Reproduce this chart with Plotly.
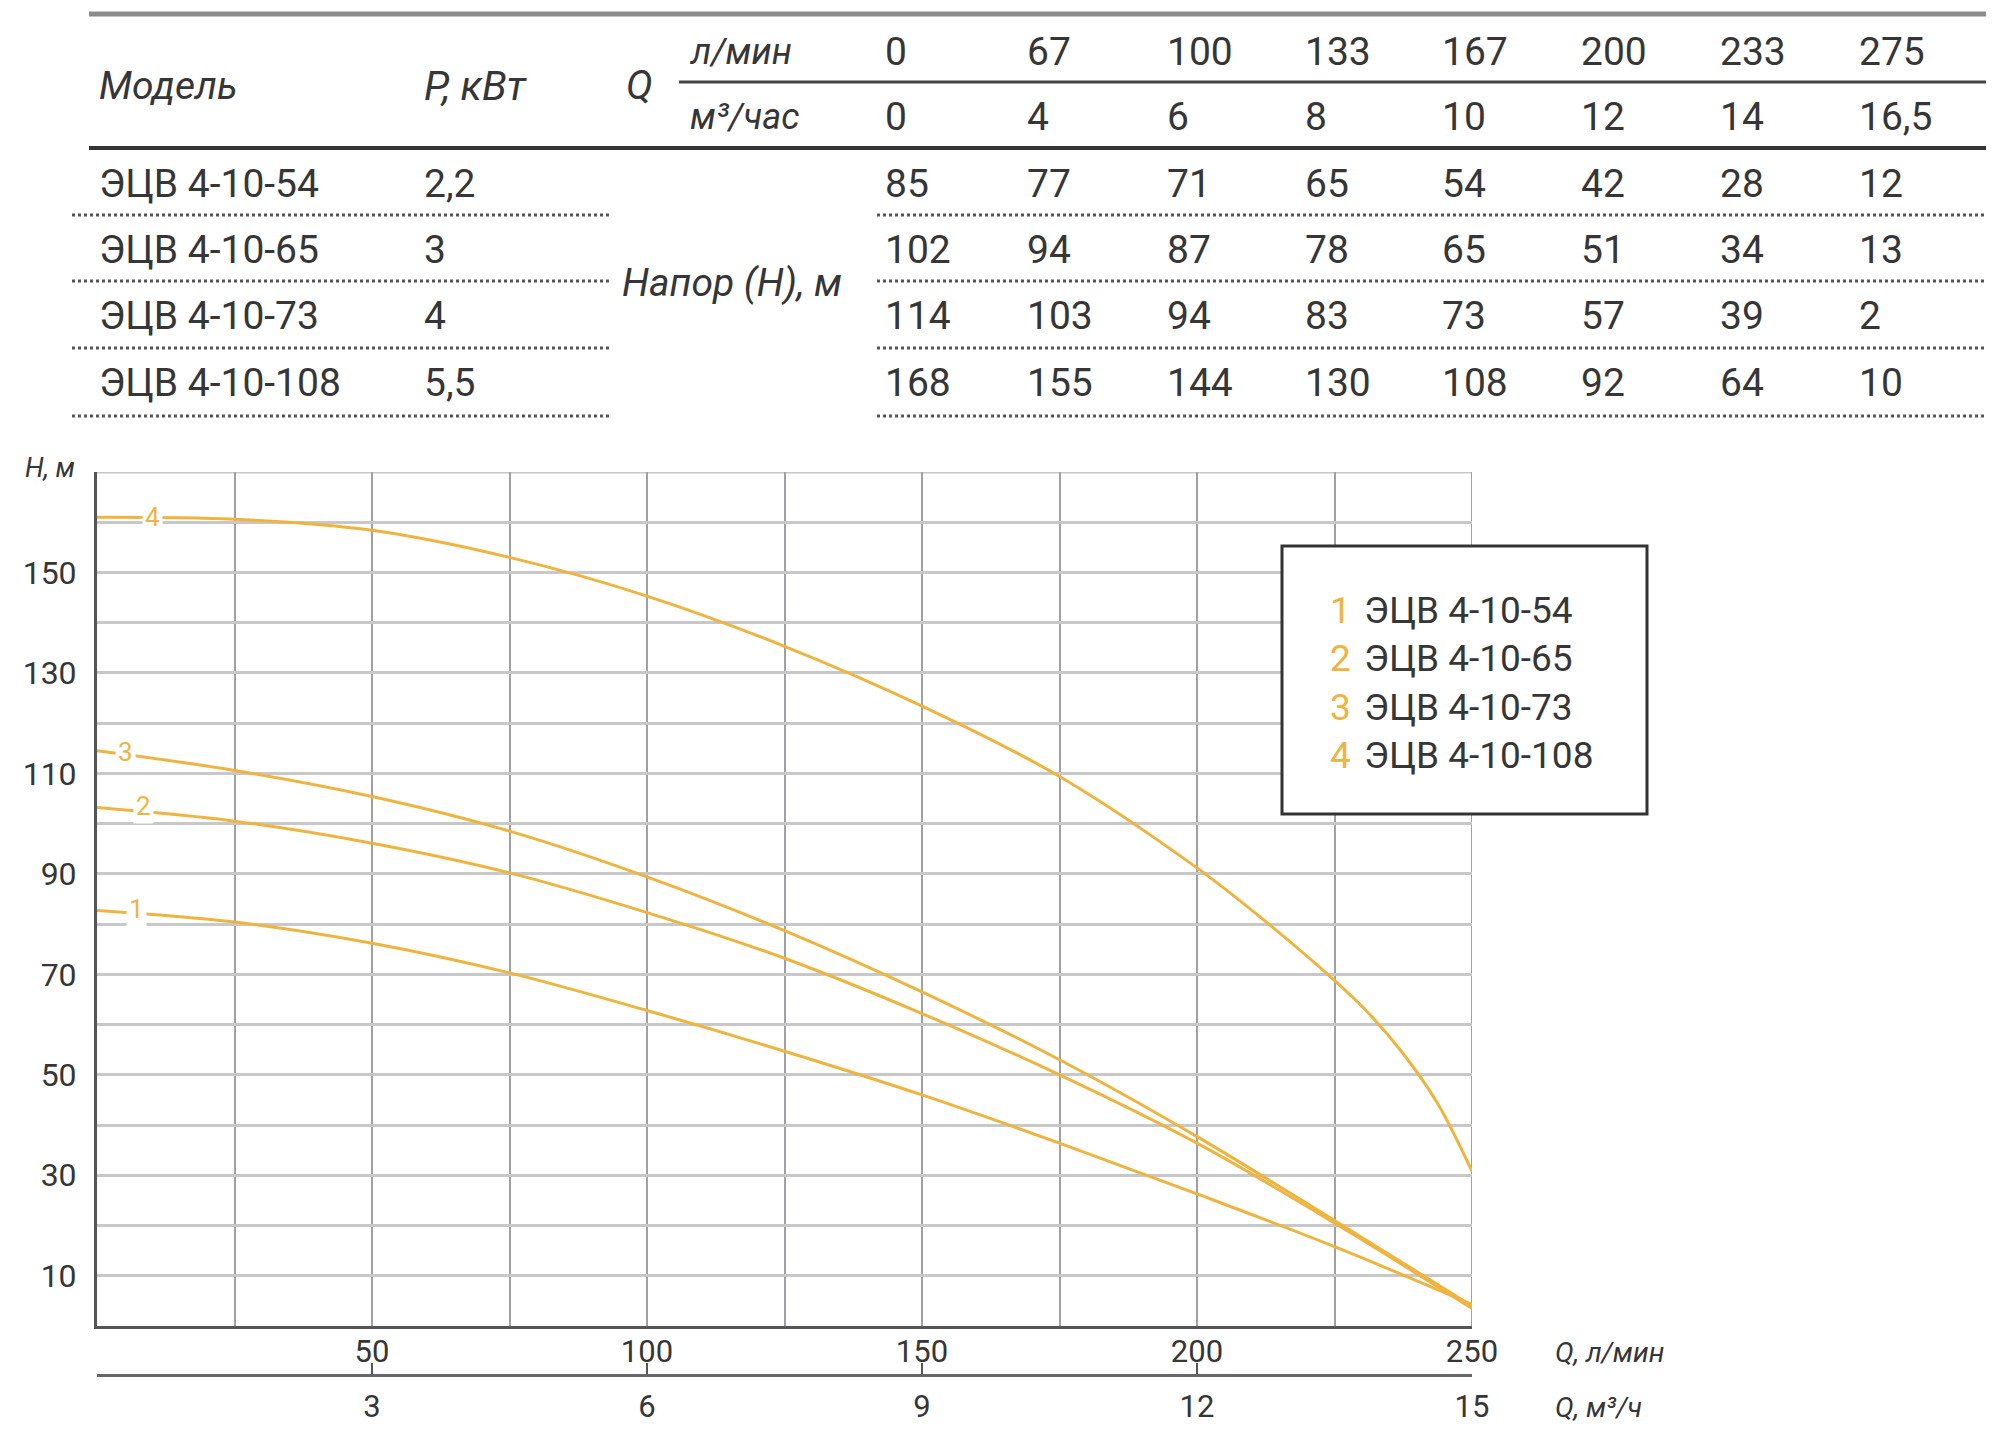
import plotly.graph_objects as go

# ---------------- data ----------------
models = ["ЭЦВ 4-10-54", "ЭЦВ 4-10-65", "ЭЦВ 4-10-73", "ЭЦВ 4-10-108"]
power_kw = ["2,2", "3", "4", "5,5"]
q_lpm_table = ["0", "67", "100", "133", "167", "200", "233", "275"]
q_m3h_table = ["0", "4", "6", "8", "10", "12", "14", "16,5"]
head_54 = [85, 77, 71, 65, 54, 42, 28, 12]
head_65 = [102, 94, 87, 78, 65, 51, 34, 13]
head_73 = [114, 103, 94, 83, 73, 57, 39, 2]
head_108 = [168, 155, 144, 130, 108, 92, 64, 10]
heads_table = [head_54, head_65, head_73, head_108]

q_curve = [0, 25, 50, 75, 100, 125, 150, 175, 200, 225, 250]
h_curve_1 = [82.7, 80.4, 76.2, 70.3, 62.8, 54.7, 46.0, 36.4, 26.3, 15.8, 4.3]
h_curve_2 = [103.2, 100.5, 96.1, 90.2, 82.3, 73.2, 62.2, 50.0, 36.4, 20.5, 3.5]
h_curve_3 = [114.5, 110.6, 105.4, 98.5, 89.4, 78.7, 66.5, 53.0, 37.7, 21.0, 4.0]
q_curve_4 = [0, 25, 50, 75, 100, 125, 150, 175, 200, 212.5, 225, 231.25, 237.5, 243.75, 250]
h_curve_4 = [161, 160.6, 158.4, 153.0, 145.3, 135.3, 123.4, 109.4, 91.2, 80.5, 68.8, 62.2, 54.2, 44.3, 30.8]

curve_ids = ["1", "2", "3", "4"]
label_q = [7.2, 8.4, 5.1, 10.0]
label_h = [83.0, 103.6, 114.2, 161.0]

x_tickvals = [0, 25, 50, 75, 100, 125, 150, 175, 200, 225, 250]
x_ticktext = ["", "", "50", "", "100", "", "150", "", "200", "", "250"]
y_tickvals = list(range(0, 171, 10))
y_ticktext = ["", "10", "", "30", "", "50", "", "70", "", "90", "", "110", "", "130", "", "150", "", ""]
x2_tickvals = [0, 3, 6, 9, 12, 15]
x2_ticktext = ["", "3", "6", "9", "12", "15"]

# ---------------- geometry helpers (page pixels -> paper) ----------------
OFF = 8                       # default body margin of the html page
W, H = 1984, 1422
ML, MR, MT, MB = 89, 520, 464, 55
PW = W - ML - MR
PH = H - MT - MB


def X(px):
    return (px - OFF - ML) / PW


def Y(py):
    return (H - MB - (py - OFF)) / PH


GOLD = "#EFB43F"
TXT = "#363636"
FONT = "Roboto, 'Noto Sans', sans-serif"
HGRID = "#c8c8ca"
VGRID = "#a0a0a4"

fig = go.Figure()

for q, h, name in [(q_curve, h_curve_1, models[0]), (q_curve, h_curve_2, models[1]),
                   (q_curve, h_curve_3, models[2]), (q_curve_4, h_curve_4, models[3])]:
    fig.add_trace(go.Scatter(x=q, y=h, mode="lines", name=name,
                             line=dict(color=GOLD, width=3, shape="spline", smoothing=1.0),
                             showlegend=False, hoverinfo="skip"))

# invisible trace to carry the second x axis
fig.add_trace(go.Scatter(x=[0, 15], y=[None, None], xaxis="x2", yaxis="y",
                         mode="lines", showlegend=False, hoverinfo="skip"))

annotations = []
shapes = []

# border gridlines at the range ends (top = 170 m, right = 250 l/min)
shapes.append(dict(type="line", xref="x", yref="y", x0=0, x1=250, y0=170, y1=170,
                   line=dict(color=HGRID, width=3), layer="below"))
shapes.append(dict(type="line", xref="x", yref="y", x0=250, x1=250, y0=0, y1=170,
                   line=dict(color=VGRID, width=2), layer="below"))

# curve number labels
for cid, lq, lh in zip(curve_ids, label_q, label_h):
    annotations.append(dict(x=lq, y=lh, xref="x", yref="y", text=cid, showarrow=False,
                            font=dict(family=FONT, size=26, color=GOLD),
                            bgcolor="white", borderpad=2))

# axis titles
annotations.append(dict(x=X(23), y=Y(468), xref="paper", yref="paper", xanchor="left",
                        yanchor="middle", text="<i>H, м</i>", showarrow=False,
                        font=dict(family=FONT, size=27, color=TXT)))
annotations.append(dict(x=X(1553), y=Y(1352), xref="paper", yref="paper", xanchor="left",
                        yanchor="middle", text="<i>Q, л/мин</i>", showarrow=False,
                        font=dict(family=FONT, size=28, color=TXT)))
annotations.append(dict(x=X(1553), y=Y(1407), xref="paper", yref="paper", xanchor="left",
                        yanchor="middle", text="<i>Q, м³/ч</i>", showarrow=False,
                        font=dict(family=FONT, size=28, color=TXT)))

# legend box
shapes.append(dict(type="rect", xref="paper", yref="paper", x0=X(1282), x1=X(1647),
                   y0=Y(814), y1=Y(546), line=dict(color="#333", width=3), fillcolor="white",
                   layer="above"))
legend_rows = [610, 658, 707, 755]
for cid, name, ry in zip(curve_ids, models, legend_rows):
    annotations.append(dict(x=X(1328), y=Y(ry), xref="paper", yref="paper", xanchor="left",
                            yanchor="middle", text=cid, showarrow=False,
                            font=dict(family=FONT, size=37, color=GOLD)))
    annotations.append(dict(x=X(1362), y=Y(ry), xref="paper", yref="paper", xanchor="left",
                            yanchor="middle", text=name, showarrow=False,
                            font=dict(family=FONT, size=37, color=TXT)))


# ---------------- table ----------------
def line(x0, x1, y, color, width, dash="solid"):
    shapes.append(dict(type="line", xref="paper", yref="paper", x0=X(x0), x1=X(x1),
                       y0=Y(y), y1=Y(y), line=dict(color=color, width=width, dash=dash)))


def txt(px, py, s, size=39, italic=False, anchor="left"):
    annotations.append(dict(x=X(px), y=Y(py), xref="paper", yref="paper", xanchor=anchor,
                            yanchor="middle", text=("<i>%s</i>" % s) if italic else s,
                            showarrow=False, font=dict(family=FONT, size=size, color=TXT)))


line(89, 1986, 14, "#8c8c8c", 5)
line(679, 1986, 82, "#444", 3)
line(89, 1986, 148, "#333", 4)
for dy in [215, 281, 348, 416]:
    line(72, 612, dy, "#555", 3, "dot")
    line(877, 1986, dy, "#555", 3, "dot")

txt(97, 86, "Модель", italic=True)
txt(422, 86, "P, кВт", size=41, italic=True)
txt(624, 86, "Q", size=40, italic=True)
txt(688, 52, "л/мин", size=36, italic=True)
txt(688, 117, "м³/час", size=36, italic=True)
txt(620, 283, "Напор (H), м", size=39, italic=True)

col_x = [883, 1025, 1165, 1303, 1440, 1579, 1718, 1857]
for cx, a, b in zip(col_x, q_lpm_table, q_m3h_table):
    txt(cx, 52, a)
    txt(cx, 117, b)

row_y = [184, 250, 316, 383]
for ry, m, p, hv in zip(row_y, models, power_kw, heads_table):
    txt(97, ry, m)
    txt(422, ry, p)
    for cx, v in zip(col_x, hv):
        txt(cx, ry, str(v))

# ---------------- layout ----------------
y0dom = (1375 - 1326) / PH
fig.update_layout(
    width=W, height=H,
    margin=dict(l=ML, r=MR, t=MT, b=MB, autoexpand=False),
    paper_bgcolor="white", plot_bgcolor="white",
    showlegend=False,
    xaxis=dict(range=[0, 250], tickvals=x_tickvals, ticktext=x_ticktext,
               showgrid=True, gridcolor=VGRID, gridwidth=2,
               showline=True, linecolor="#555", linewidth=3, zeroline=False,
               ticks="", ticklabelstandoff=-4, automargin=False,
               tickfont=dict(family=FONT, size=31, color=TXT), anchor="y"),
    xaxis2=dict(range=[0, 15], overlaying="x", anchor="free", position=0, side="bottom",
                tickvals=x2_tickvals, ticktext=x2_ticktext, showgrid=False, zeroline=False,
                showline=True, linecolor="#666", linewidth=3,
                ticks="inside", ticklen=11, tickwidth=2, tickcolor="#555",
                ticklabelstandoff=3, automargin=False,
                tickfont=dict(family=FONT, size=31, color=TXT)),
    yaxis=dict(range=[0, 170], domain=[y0dom, 1], tickvals=y_tickvals, ticktext=y_ticktext,
               showgrid=True, gridcolor=HGRID, gridwidth=3,
               showline=True, linecolor="#555", linewidth=3, zeroline=False,
               ticks="", ticklabelstandoff=11, automargin=False,
               tickfont=dict(family=FONT, size=32, color=TXT)),
    annotations=annotations,
    shapes=shapes,
)

fig.write_html("out.html")
